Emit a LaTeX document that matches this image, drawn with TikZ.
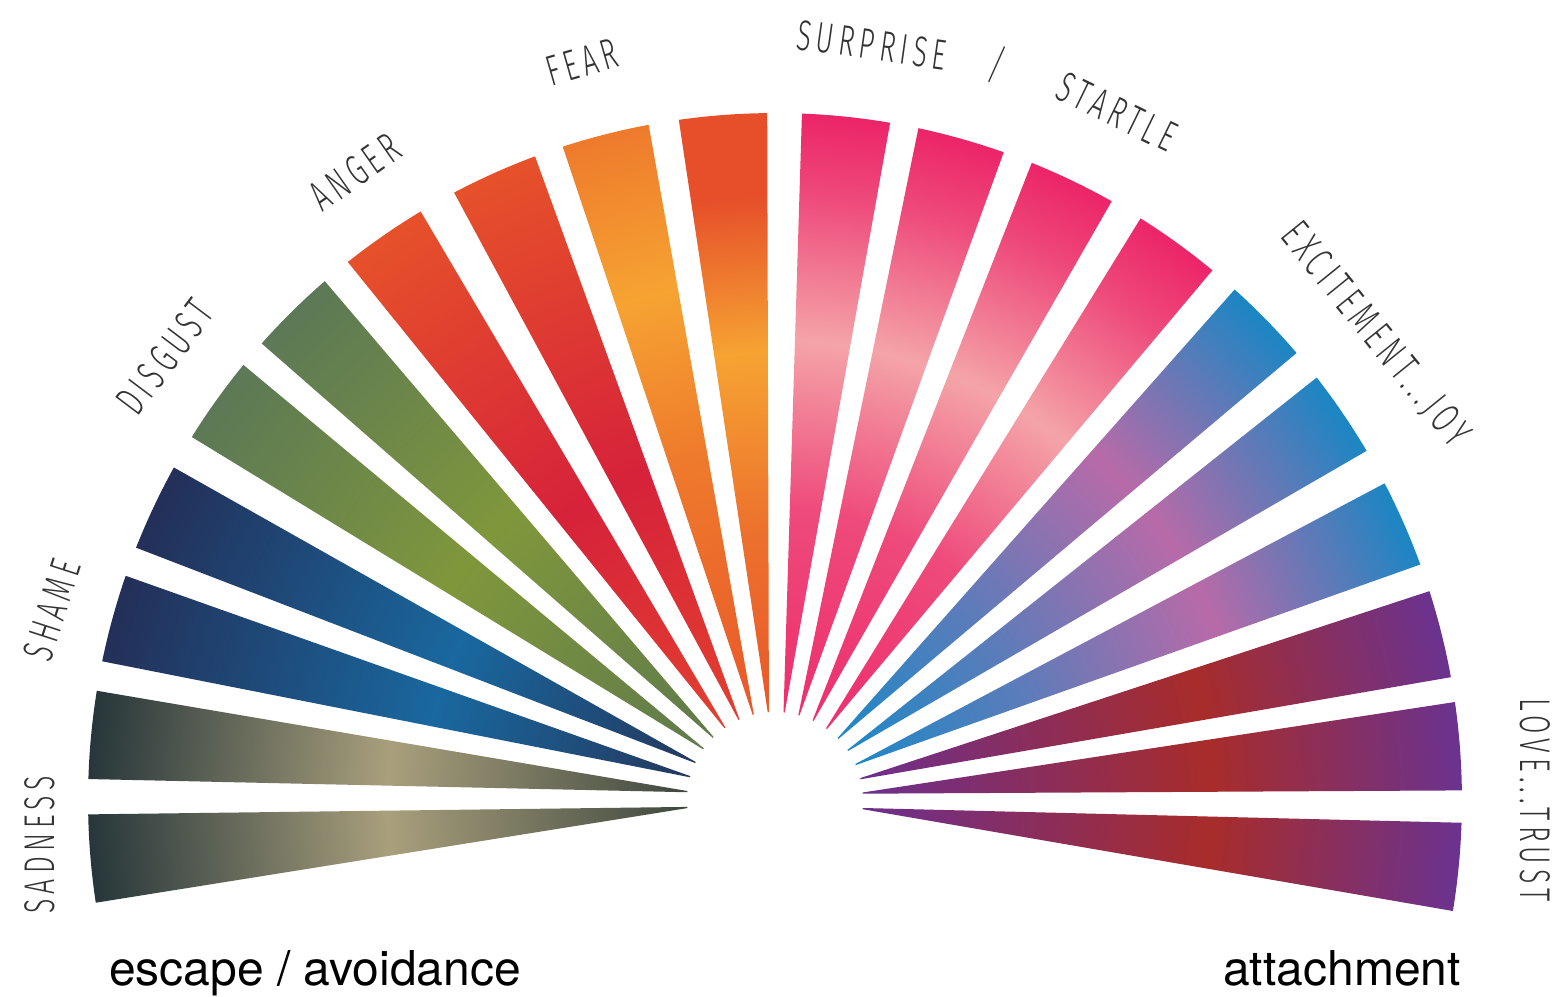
\documentclass[tikz,border=0pt]{standalone}
\usepackage{fontspec}
\newfontfamily\emofont{Fira Sans Light}[FakeStretch=0.62,LetterSpace=12]
\newfontfamily\polefont{TeX Gyre Heros}

% wedge colours
\definecolor{sadout}{HTML}{26363A}
\definecolor{sadmid}{HTML}{A99F7C}
\definecolor{sadtip}{HTML}{3E483F}
\definecolor{shameout}{HTML}{232F58}
\definecolor{shamemid}{HTML}{19689F}
\definecolor{shametip}{HTML}{24385E}
\definecolor{disgout}{HTML}{5C7856}
\definecolor{disgmid}{HTML}{7F973B}
\definecolor{disgtip}{HTML}{607A4C}
\definecolor{angerout}{HTML}{E6512A}
\definecolor{angermid}{HTML}{D6223A}
\definecolor{angertip}{HTML}{E2402F}
\definecolor{fearout}{HTML}{E64F2A}
\definecolor{fearmid}{HTML}{F6A332}
\definecolor{feartip}{HTML}{E9582A}
\definecolor{fearorange}{HTML}{EE7A2C}
\definecolor{pinkout}{HTML}{EC2468}
\definecolor{pinkmid}{HTML}{F4A4A8}
\definecolor{pinktip}{HTML}{ED2F6E}
\definecolor{joyout}{HTML}{1A86C4}
\definecolor{joymid}{HTML}{B86AA8}
\definecolor{joytip}{HTML}{1E88C6}
\definecolor{loveout}{HTML}{6A3290}
\definecolor{lovemid}{HTML}{A82C2A}
\definecolor{lovetip}{HTML}{6C2F8E}

% tip at 25bp, outer arc at 75bp
\pgfdeclarehorizontalshading{sadshade}{100bp}{color(0bp)=(sadtip); color(25bp)=(sadtip); color(50bp)=(sadmid); color(75bp)=(sadout); color(100bp)=(sadout)}
\pgfdeclarehorizontalshading{shameshade}{100bp}{color(0bp)=(shametip); color(25bp)=(shametip); color(47bp)=(shamemid); color(75bp)=(shameout); color(100bp)=(shameout)}
\pgfdeclarehorizontalshading{disgshade}{100bp}{color(0bp)=(disgtip); color(25bp)=(disgtip); color(50bp)=(disgmid); color(75bp)=(disgout); color(100bp)=(disgout)}
\pgfdeclarehorizontalshading{angershade}{100bp}{color(0bp)=(angertip); color(25bp)=(angertip); color(47bp)=(angermid); color(75bp)=(angerout); color(100bp)=(angerout)}
\pgfdeclarehorizontalshading{fearshade}{100bp}{color(0bp)=(feartip); color(25bp)=(feartip); color(40bp)=(fearout!60!fearmid); color(55bp)=(fearmid); color(68bp)=(fearout); color(75bp)=(fearout); color(100bp)=(fearout)}
\pgfdeclarehorizontalshading{amberfearshade}{100bp}{color(0bp)=(feartip); color(25bp)=(feartip); color(47bp)=(fearorange); color(61bp)=(fearmid); color(75bp)=(fearorange); color(100bp)=(fearorange)}
\pgfdeclarehorizontalshading{pinkshade}{100bp}{color(0bp)=(pinktip); color(25bp)=(pinktip); color(42bp)=(pinkout!70!pinkmid); color(56bp)=(pinkmid); color(68bp)=(pinkout!70!pinkmid); color(75bp)=(pinkout); color(100bp)=(pinkout)}
\pgfdeclarehorizontalshading{joyshade}{100bp}{color(0bp)=(joytip); color(25bp)=(joytip); color(40bp)=(joytip!60!joymid); color(57bp)=(joymid); color(68bp)=(joyout!60!joymid); color(75bp)=(joyout); color(100bp)=(joyout)}
\pgfdeclarehorizontalshading{loveshade}{100bp}{color(0bp)=(lovetip); color(25bp)=(lovetip); color(54bp)=(lovemid); color(75bp)=(loveout); color(100bp)=(loveout)}

\begin{document}
\begin{tikzpicture}[x=1pt, y=1pt,
  emolabel/.style={font=\emofont\fontsize{43}{50}\selectfont, text=black!80, inner sep=0pt},
  poletext/.style={font=\polefont\fontsize{48}{56}\selectfont, anchor=base, inner sep=0pt}
]
\useasboundingbox (-775,-196) rectangle (787,800);
\fill[white] (-775,-196) rectangle (787,800);

% the fan, one wedge per angle
\foreach \ang/\shd in {94.35/fearshade, 104.3/amberfearshade, 114.15/angershade, 124.75/angershade,
    134.65/disgshade, 144.4/disgshade, 154.75/shameshade, 164.65/shameshade,
    174.55/sadshade, 184.9/sadshade,
    84.05/pinkshade, 74.25/pinkshade, 64.35/pinkshade, 54.15/pinkshade,
    44.3/joyshade, 34.25/joyshade, 23.75/joyshade,
    14/loveshade, 4.5/loveshade, -5.6/loveshade} {
  \begin{scope}[transform canvas={rotate=\ang}]
    \shade[shading=\shd] (88,-0.6) -- (-3.7:687) arc[start angle=-3.7, end angle=3.7, radius=687pt] -- (88,0.6) -- cycle;
  \end{scope}
}

% emotion labels
\node[emolabel, rotate=90] (sadness) at (-735,-45) {SADNESS};
\node[emolabel, rotate=72] (shame) at (-723,190) {SHAME};
\node[emolabel, rotate=53] (disgust) at (-610,443) {DISGUST};
\node[emolabel, rotate=35] (anger) at (-420,628) {ANGER};
\node[emolabel, rotate=16] (fear) at (-193,738) {FEAR};
\node[emolabel, rotate=-8] (surprise) at (97,755) {SURPRISE};
\node[emolabel, rotate=-15] (slash) at (222,735) {/};
\node[emolabel, rotate=-26] (startle) at (342,688) {STARTLE};
\node[emolabel, rotate=-51] (joy) at (600,465) {EXCITEMENT...JOY};
\node[emolabel, rotate=-90] (love) at (760,0) {LOVE...TRUST};

% the two poles
\node[poletext] (escape) at (-460,-185) {escape / avoidance};
\node[poletext] (attach) at (567,-185) {attachment};
\end{tikzpicture}
\end{document}
